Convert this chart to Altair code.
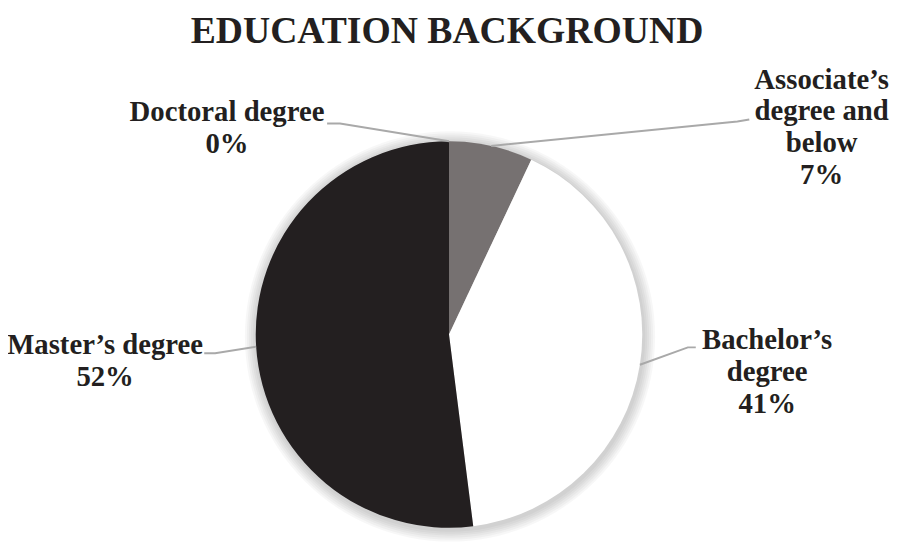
import altair as alt
import pandas as pd
import numpy as np

# ---- data ----
categories = ["Associate's degree and below", "Bachelor's degree", "Master's degree", "Doctoral degree"]
label_texts = [["Associate\u2019s", "degree and", "below", "7%"],
               ["Bachelor\u2019s", "degree", "41%"],
               ["Master\u2019s degree", "52%"],
               ["Doctoral degree", "0%"]]
values = [7, 41, 52, 0]
colors = ["#767171", "#ffffff", "#231f20", "#a0a0a0"]
title_text = "EDUCATION BACKGROUND"

# ---- layout ----
W, H = 892, 540
CX, CY, R = 445, 327, 195
label_pos = [(821, 79), (766, 342), (98, 347), (221, 112)]   # center x, first-line baseline
elbow = [(736, 112), (686, 340), (209, 346), (335, 114)]      # leader bend points
line_end = [(748, 110), (694, 340), (198, 346), (322, 114)]

df = pd.DataFrame({"cat": categories, "value": values, "order": range(len(values))})

total = sum(values)
cum = np.cumsum([0] + values)
mids = [(cum[i] + values[i] / 2) / total * 2 * np.pi for i in range(len(values))]

line_rows = []
for i, m in enumerate(mids):
    px = CX + R * np.sin(m)
    py = CY - R * np.cos(m)
    pts = [(px, py), elbow[i], line_end[i]]
    for k, (x, y) in enumerate(pts):
        line_rows.append({"cat": categories[i], "k": k, "x": x, "y": y})
lines_df = pd.DataFrame(line_rows)

label_df = pd.DataFrame({
    "cat": categories,
    "text": label_texts,
    "x": [p[0] for p in label_pos],
    "y": [p[1] for p in label_pos],
})

xs = alt.Scale(domain=[0, W], range=[0, W])
ys = alt.Scale(domain=[0, H], range=[0, H])

# soft shadow behind the pie (concentric translucent discs)
shadow_r = [207, 205, 203, 201, 199, 197]
shadow_df = pd.DataFrame({"s": [(2 * r) ** 2 for r in shadow_r]})
shadow = alt.Chart(shadow_df).mark_circle(color="#000000", opacity=0.03).encode(
    size=alt.Size("s:Q", scale=None, legend=None),
    x=alt.value(CX + 1), y=alt.value(CY + 2),
)

pie = alt.Chart(df).mark_arc(radius=R, stroke=None).encode(
    theta=alt.Theta("value:Q", stack=True),
    color=alt.Color("cat:N", scale=alt.Scale(domain=categories, range=colors), legend=None),
    order=alt.Order("order:Q"),
    x=alt.value(CX), y=alt.value(CY),
)

leaders = alt.Chart(lines_df).mark_line(color="#a9a9a9", strokeWidth=2).encode(
    x=alt.X("x:Q", scale=xs, axis=None),
    y=alt.Y("y:Q", scale=ys, axis=None),
    detail="cat:N",
    order="k:Q",
)

labels = alt.Chart(label_df).mark_text(
    font="Liberation Serif", fontWeight="bold", fontSize=29, color="#231f20",
    align="center", baseline="alphabetic", lineHeight=32,
).encode(
    x=alt.X("x:Q", scale=xs, axis=None),
    y=alt.Y("y:Q", scale=ys, axis=None),
    text="text",
)

title = alt.Chart(pd.DataFrame({"t": [title_text]})).mark_text(
    font="Liberation Serif", fontWeight="bold", fontSize=38, color="#231f20",
    align="center", baseline="alphabetic",
).encode(x=alt.value(443), y=alt.value(33), text="t:N")

chart = alt.layer(shadow, pie, leaders, labels, title).properties(
    width=W, height=H, padding=0, autosize=alt.AutoSizeParams(type="none"),
).configure(background="#ffffff").configure_view(stroke=None)

chart.save("out.html", embed_options={"renderer": "svg", "actions": False})
